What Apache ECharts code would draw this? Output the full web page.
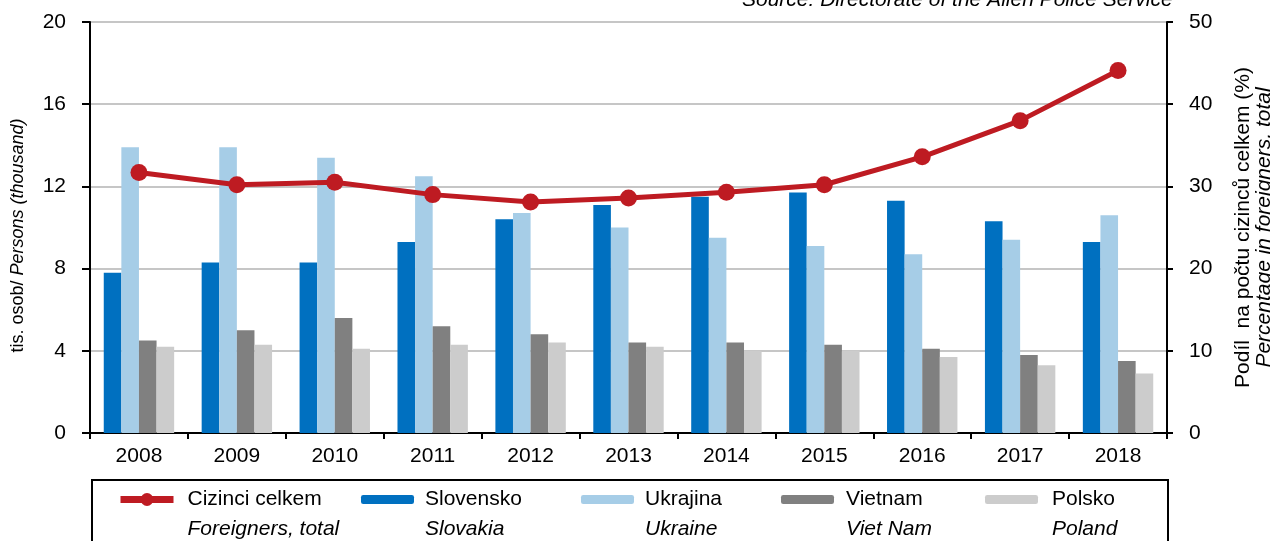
<!DOCTYPE html>
<html>
<head>
<meta charset="utf-8">
<script src="https://cdn.jsdelivr.net/npm/echarts@6/dist/echarts.min.js"></script>
<style>
html,body{margin:0;padding:0;background:#fff;overflow:hidden;}
#chart{width:1270px;height:541px;}
</style>
</head>
<body>
<div id="chart"></div>
<script>
// ---- data ----
const years = ['2008','2009','2010','2011','2012','2013','2014','2015','2016','2017','2018'];
const slovakia = [7.8, 8.3, 8.3, 9.3, 10.4, 11.1, 11.5, 11.7, 11.3, 10.3, 9.3];
const ukraine  = [13.9, 13.9, 13.4, 12.5, 10.7, 10.0, 9.5, 9.1, 8.7, 9.4, 10.6];
const vietnam  = [4.5, 5.0, 5.6, 5.2, 4.8, 4.4, 4.4, 4.3, 4.1, 3.8, 3.5];
const poland   = [4.2, 4.3, 4.1, 4.3, 4.4, 4.2, 4.0, 4.0, 3.7, 3.3, 2.9];
const shareTotal = [31.7, 30.2, 30.5, 29.0, 28.1, 28.6, 29.3, 30.2, 33.6, 38.0, 44.1];

const leftTicks = {min: 0, max: 20, interval: 4};
const rightTicks = {min: 0, max: 50, interval: 10};

const namesCz = ['Cizinci celkem', 'Slovensko', 'Ukrajina', 'Vietnam', 'Polsko'];
const namesEn = ['Foreigners, total', 'Slovakia', 'Ukraine', 'Viet Nam', 'Poland'];

const FONT = "'Liberation Sans', Arial, sans-serif";
const colors = {line: '#BE1B22', sk: '#0070C0', ua: '#A6CDE7', vn: '#808080', pl: '#CCCCCC'};

const legendLeft = [117, 361, 581, 781, 985];
const legendPad = [9, 6, 6, 7, 9];

const chart = echarts.init(document.getElementById('chart'), null, {renderer: 'canvas'});

const legends = namesCz.map((n, i) => ({
  data: [n],
  left: legendLeft[i],
  top: 489,
  padding: 0,
  itemWidth: 53,
  itemHeight: i === 0 ? 16 : 9,
  selectedMode: false,
  lineStyle: i === 0 ? {width: 7} : undefined,
  formatter: () => '{a|' + namesCz[i] + '}\n{b|' + namesEn[i] + '}',
  textStyle: {
    padding: [30, 0, 0, legendPad[i]],
    fontFamily: FONT,
    rich: {
      a: {fontSize: 21, lineHeight: 30, color: '#000', fontFamily: FONT},
      b: {fontSize: 21, lineHeight: 30, color: '#000', fontStyle: 'italic', fontFamily: FONT}
    }
  }
}));

const barSeries = (name, data, color) => ({
  name, type: 'bar', data, yAxisIndex: 0,
  barWidth: 17.6, barGap: '0%',
  itemStyle: {color},
  z: 2
});

const option = {
  animation: false,
  textStyle: {fontFamily: FONT},
  grid: {left: 90, right: 103, top: 22, bottom: 108, show: true, borderColor: '#000', borderWidth: 2, backgroundColor: 'transparent', containLabel: false, outerBoundsMode: 'none'},
  legend: legends,
  graphic: [
    {type: 'rect', shape: {x: 92, y: 480, width: 1076, height: 80}, style: {fill: 'none', stroke: '#000', lineWidth: 2}, silent: true},
    {type: 'text', style: {x: 742, y: 0, text: 'Source: Directorate of the Alien Police Service', font: 'italic 21px ' + FONT, fill: '#000', textAlign: 'left', textVerticalAlign: 'middle', verticalAlign: 'middle'}, silent: true}
  ],
  xAxis: {
    type: 'category', data: years, boundaryGap: true,
    axisLine: {lineStyle: {color: '#000', width: 2}},
    axisTick: {show: true, interval: 0, length: 6, lineStyle: {color: '#000', width: 2}},
    axisLabel: {fontSize: 21, color: '#000', margin: 13, fontFamily: FONT, interval: 0}
  },
  yAxis: [
    {
      type: 'value', position: 'left', ...leftTicks,
      axisLine: {show: true, lineStyle: {color: '#000', width: 2}},
      axisTick: {show: true, length: 8, lineStyle: {color: '#000', width: 2}},
      axisLabel: {fontSize: 21, color: '#000', margin: 24, fontFamily: FONT},
      splitLine: {show: true, lineStyle: {color: '#c6c6c6', width: 2}},
      name: '{n|tis. osob/ }{i|Persons (thousand)}',
      nameLocation: 'middle', nameRotate: 90, nameGap: 63,
      nameTextStyle: {
        fontFamily: FONT,
        padding: [0, 16, 0, 0],
        rich: {
          n: {fontSize: 18, color: '#000', fontFamily: FONT},
          i: {fontSize: 18, color: '#000', fontStyle: 'italic', fontFamily: FONT}
        }
      }
    },
    {
      type: 'value', position: 'right', ...rightTicks,
      axisLine: {show: true, lineStyle: {color: '#000', width: 2}},
      axisTick: {show: true, length: 6, lineStyle: {color: '#000', width: 2}},
      axisLabel: {fontSize: 21, color: '#000', margin: 22, fontFamily: FONT},
      splitLine: {show: false},
      name: '{n|Podíl  na počtu cizinců celkem (%)}\n{i|Percentage in foreigners, total}',
      nameLocation: 'middle', nameRotate: 90, nameGap: 66,
      nameTextStyle: {
        fontFamily: FONT,
        rich: {
          n: {fontSize: 21, lineHeight: 21, color: '#000', fontFamily: FONT},
          i: {fontSize: 21, lineHeight: 21, color: '#000', fontStyle: 'italic', fontFamily: FONT}
        }
      }
    }
  ],
  series: [
    {
      name: namesCz[0], type: 'line', data: shareTotal, yAxisIndex: 1,
      symbol: 'circle', symbolSize: 17,
      lineStyle: {color: colors.line, width: 5},
      itemStyle: {color: colors.line},
      z: 5
    },
    barSeries(namesCz[1], slovakia, colors.sk),
    barSeries(namesCz[2], ukraine, colors.ua),
    barSeries(namesCz[3], vietnam, colors.vn),
    barSeries(namesCz[4], poland, colors.pl)
  ]
};
chart.setOption(option);
</script>
</body>
</html>
